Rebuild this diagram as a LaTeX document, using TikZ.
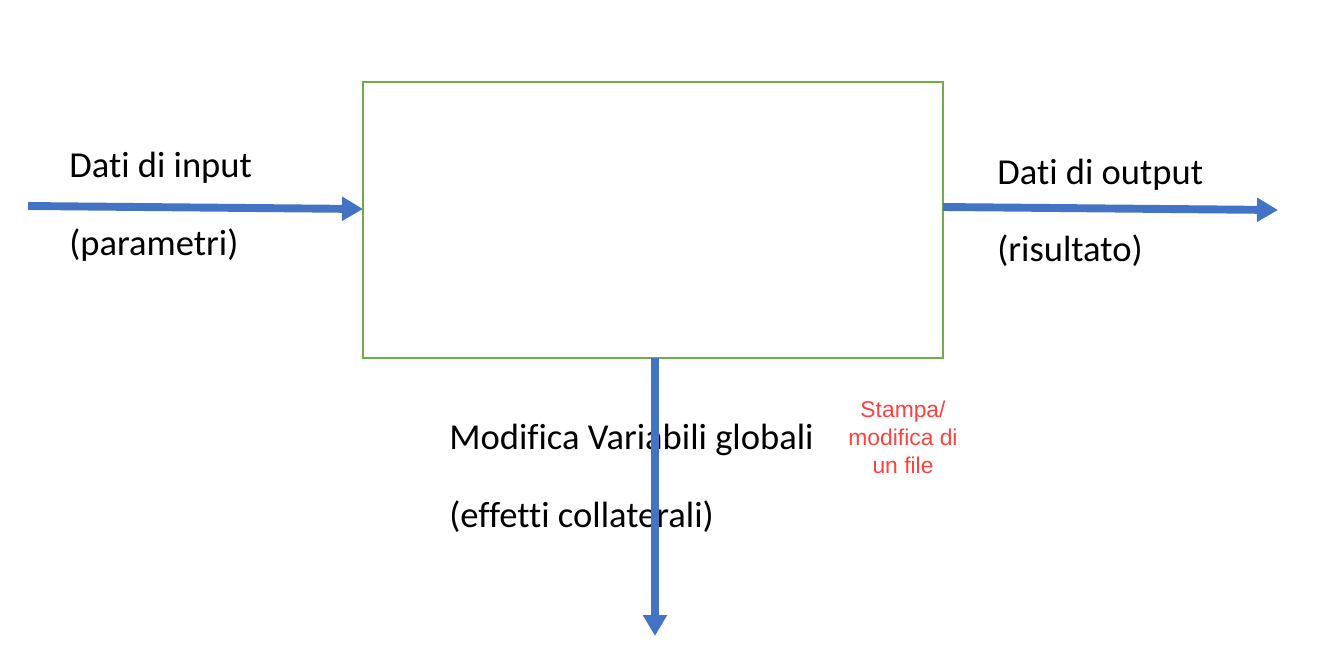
\documentclass[tikz,border=0pt]{standalone}
\usepackage{fontspec}
\setmainfont{Carlito}[Ligatures=NoCommon]
\newfontfamily\redfont{Liberation Sans}
\usetikzlibrary{arrows.meta,calc,positioning}
\definecolor{bordoverde}{HTML}{70AD47}
\definecolor{frecciablu}{HTML}{4472C4}
\definecolor{rossonota}{HTML}{FF4040}

\begin{document}
\begin{tikzpicture}[
  freccia/.style={frecciablu, line width=4.5pt, -{Triangle[width=0.46cm,length=0.42cm]}},
  etichetta/.style={anchor=west, inner sep=0pt, font=\fontsize{20.8}{24}\selectfont}
]
\useasboundingbox (0,0) rectangle (26.82,-13.16);
% Blocco funzione
\node[draw=bordoverde, line width=1.2pt, minimum width=11.6cm, minimum height=5.52cm] (blocco) at (13.06,-4.4) {};
% Testi
\node[etichetta] (datiIn) at (1.38,-3.36) {Dati di input};
\node[etichetta] (param) at (1.38,-4.9) {(parametri)};
\node[etichetta] (datiOut) at (19.94,-3.5) {Dati di output};
\node[etichetta] (risult) at (19.94,-5.02) {(risultato)};
\node[etichetta] (modVar) at (8.98,-8.8) {Modifica Variabili globali};
\node[etichetta] (effetti) at (8.98,-10.34) {(effetti collaterali)};
\node[align=center, text=rossonota, font=\redfont\fontsize{13}{16}\selectfont] (stampa) at (18.06,-8.74) {Stampa/\\modifica di\\un file};
% Estremi delle frecce (disegnate sopra i testi)
\coordinate (inA) at (0.56,-4.12);
\coordinate (inB) at (7.26,-4.18);
\coordinate (outA) at (18.86,-4.14);
\coordinate (outB) at (25.56,-4.2);
\coordinate (giuA) at (13.1,-7.16);
\coordinate (giuB) at (13.1,-12.72);
\draw[freccia] (inA) -- (inB);
\draw[freccia] (outA) -- (outB);
\draw[freccia] (giuA) -- (giuB);
\end{tikzpicture}
\end{document}
